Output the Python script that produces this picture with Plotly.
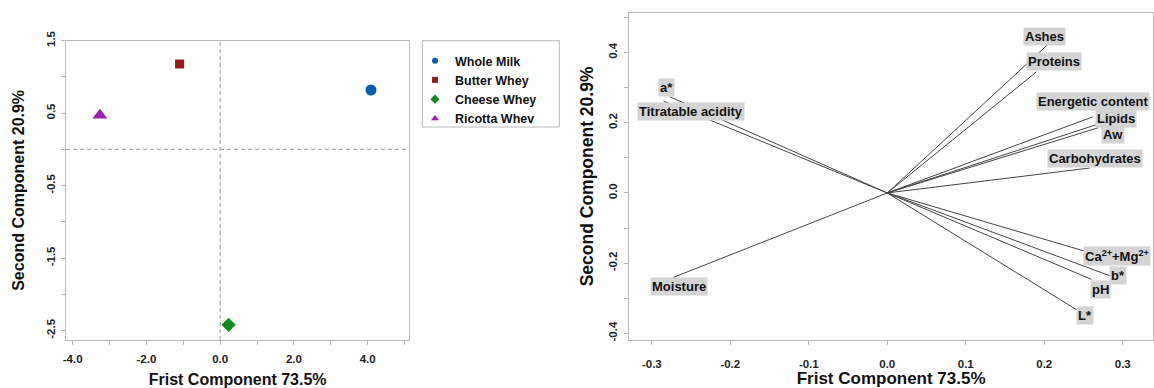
import plotly.graph_objects as go

# ---------------- data: left (scores) ----------------
samples = ["Whole Milk", "Butter Whey", "Cheese Whey", "Ricotta Whev"]
score_pc1 = [4.09, -1.10, 0.23, -3.26]
score_pc2 = [0.82, 1.18, -2.42, 0.47]
sample_colors = ["#0b5cad", "#9b1b1b", "#138a1e", "#9b1fb5"]
sample_symbols = ["circle", "square", "diamond", "triangle-up"]
sample_sizes = [11, 9, 11, 13]
legend_sizes = [6, 6, 7, 7]

left_xticks = [-4, -2, 0, 2, 4]
left_xticktext = ["-4.0", "-2.0", "0.0", "2.0", "4.0"]
left_yticks = [1.5, 0.5, -0.5, -1.5, -2.5]
left_yticktext = ["1.5", "0.5", "-0.5", "-1.5", "-2.5"]

# ---------------- data: right (loadings) ----------------
variables = ["a*", "Titratable acidity", "Moisture", "Ashes", "Proteins",
             "Energetic content", "Lipids", "Aw", "Carbohydrates",
             "Ca<sup>2+</sup>+Mg<sup>2+</sup>", "b*", "pH", "L*"]
load_pc1 = [-0.277, -0.285, -0.273, 0.205, 0.190, 0.262, 0.267, 0.269, 0.258,
            0.267, 0.286, 0.260, 0.245]
load_pc2 = [0.274, 0.262, -0.241, 0.424, 0.345, 0.217, 0.195, 0.186, 0.071,
            -0.176, -0.238, -0.246, -0.338]
label_pc1 = [-0.281, -0.250, -0.265, 0.200, 0.212, 0.262, 0.292, 0.287, 0.265,
             0.293, 0.294, 0.272, 0.252]
label_pc2 = [0.300, 0.232, -0.267, 0.447, 0.375, 0.261, 0.213, 0.167, 0.097,
             -0.181, -0.234, -0.276, -0.348]

right_xticks = [-0.3, -0.2, -0.1, 0.0, 0.1, 0.2, 0.3]
right_xticktext = ["-0.3", "-0.2", "-0.1", "0.0", "0.1", "0.2", "0.3"]
right_yticks = [0.4, 0.2, 0.0, -0.2, -0.4]
right_yticktext = ["0.4", "0.2", "0.0", "-0.2", "-0.4"]

x_title = "Frist Component 73.5%"
y_title = "Second Component 20.9%"

FONT = "Liberation Sans, Arial, sans-serif"
FRAME = "#b8b8b8"

fig = go.Figure()

for name, px, py, c, s, sz, lsz in zip(samples, score_pc1, score_pc2,
                                       sample_colors, sample_symbols,
                                       sample_sizes, legend_sizes):
    fig.add_trace(go.Scatter(x=[px], y=[py], mode="markers", name=name,
                             marker=dict(color=c, symbol=s, size=sz),
                             showlegend=False, xaxis="x", yaxis="y"))
    # legend entry with the small symbol used in the original legend
    fig.add_trace(go.Scatter(x=[None], y=[None], mode="markers", name=name,
                             marker=dict(color=c, symbol=s, size=lsz),
                             xaxis="x", yaxis="y"))

# loading vectors from the origin
vx, vy = [], []
for a, b in zip(load_pc1, load_pc2):
    vx += [0, a, None]
    vy += [0, b, None]
fig.add_trace(go.Scatter(x=vx, y=vy, mode="lines", showlegend=False,
                         line=dict(color="#444444", width=1),
                         xaxis="x2", yaxis="y2"))

annotations = []
for t, ax_, ay_ in zip(variables, label_pc1, label_pc2):
    annotations.append(dict(x=ax_, y=ay_, xref="x2", yref="y2", text=t,
                            showarrow=False, bgcolor="#d4d4d4", borderpad=1,
                            font=dict(family=FONT, size=13, color="#111111",
                                      weight="bold")))

tickfont = dict(family=FONT, size=11.5, color="#222222", weight="bold")

def axis_common():
    return dict(showline=True, mirror=True, linecolor=FRAME, linewidth=1,
                showgrid=False, zeroline=False, ticks="outside", ticklen=4,
                tickcolor=FRAME, tickfont=tickfont, automargin=False)

xaxis = axis_common()
xaxis.update(domain=[0.0572, 0.3547], range=[-4.18, 5.13],
             tickmode="array", tickvals=left_xticks, ticktext=left_xticktext,
             ticklabelstandoff=4,
             minor=dict(dtick=1, tick0=0, ticks="outside", ticklen=4,
                        tickcolor=FRAME, showgrid=False),
             title=dict(text=x_title, standoff=16,
                        font=dict(family=FONT, size=16, color="#111111",
                                  weight="bold")))
yaxis = axis_common()
yaxis.update(domain=[0.1237, 0.895], range=[-2.63, 1.5],
             tickmode="array", tickvals=left_yticks, ticktext=left_yticktext,
             tickangle=-90, ticklabelstandoff=1,
             minor=dict(dtick=0.5, tick0=0, ticks="outside", ticklen=4,
                        tickcolor=FRAME, showgrid=False),
             title=dict(text=y_title, standoff=16,
                        font=dict(family=FONT, size=16, color="#111111",
                                  weight="bold")))
xaxis2 = axis_common()
xaxis2.update(domain=[0.5453, 0.9991], range=[-0.3287, 0.3385],
              tickmode="array", tickvals=right_xticks, ticktext=right_xticktext,
              anchor="y2", ticklabelstandoff=9,
              title=dict(text=x_title, standoff=2,
                         font=dict(family=FONT, size=17, color="#111111",
                                   weight="bold")))
yaxis2 = axis_common()
yaxis2.update(domain=[0.1237, 0.967], range=[-0.419, 0.5133],
              tickmode="array", tickvals=right_yticks, ticktext=right_yticktext,
              tickangle=-90, anchor="x2", ticklabelstandoff=3,
              minor=dict(dtick=0.1, tick0=0, ticks="outside", ticklen=4,
                         tickcolor=FRAME, showgrid=False),
              title=dict(text=y_title, standoff=8,
                         font=dict(family=FONT, size=17.5, color="#111111",
                                   weight="bold")))

shapes = [
    dict(type="line", xref="x", yref="y domain", x0=0, x1=0, y0=0, y1=1,
         line=dict(color="#aaaaaa", width=1.2, dash="4px,3px")),
    dict(type="line", xref="x domain", yref="y", x0=0, x1=1, y0=0, y1=0,
         line=dict(color="#aaaaaa", width=1.2, dash="4px,3px")),
    # legend frame
    dict(type="rect", xref="paper", yref="paper",
         x0=422.3 / 1154, x1=559.3 / 1154, y0=1 - 127 / 388, y1=1 - 40.7 / 388,
         line=dict(color=FRAME, width=1), fillcolor="rgba(0,0,0,0)"),
]

fig.update_layout(
    width=1154, height=388, margin=dict(l=0, r=0, t=0, b=0),
    paper_bgcolor="white", plot_bgcolor="white",
    font=dict(family=FONT, color="#111111"),
    xaxis=xaxis, yaxis=yaxis, xaxis2=xaxis2, yaxis2=yaxis2,
    shapes=shapes, annotations=annotations,
    legend=dict(x=415 / 1154, y=1 - 46 / 388, xanchor="left", yanchor="top",
                borderwidth=0, bgcolor="rgba(0,0,0,0)",
                itemsizing="trace", itemwidth=30,
                font=dict(family=FONT, size=12.5, color="#111111",
                          weight="bold"),
                tracegroupgap=0),
)

fig.write_html("out.html",
               config={"displayModeBar": False},
               post_script="document.body.style.margin='0';"
                           "document.body.style.overflow='hidden';")
